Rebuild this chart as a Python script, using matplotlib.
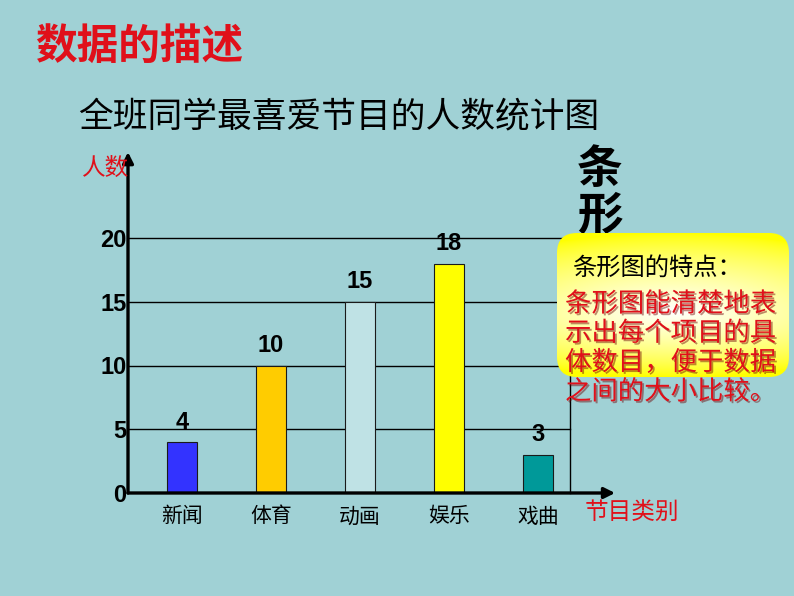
import matplotlib
matplotlib.use('Agg')
import matplotlib.pyplot as plt
import numpy as np
from matplotlib.patches import FancyBboxPatch
import matplotlib.patheffects as pe

plt.rcParams['font.family'] = ['Noto Sans CJK SC', 'DejaVu Sans']

# ---- data ----
categories = ['新闻', '体育', '动画', '娱乐', '戏曲']
counts = [4, 10, 15, 18, 3]
bar_colors = ['#3333FF', '#FFCC00', '#BFE2E5', '#FFFF00', '#009999']
y_ticks = [0, 5, 10, 15, 20]
title = '数据的描述'
subtitle = '全班同学最喜爱节目的人数统计图'
y_label = '人数'
x_label = '节目类别'
side_title = ['条', '形']
note_head = '条形图的特点：'
note_lines = ['条形图能清楚地表', '示出每个项目的具', '体数目，便于数据', '之间的大小比较。']

BG = '#A0D1D5'
RED = '#E0101A'
W, H = 794, 596
fig = plt.figure(figsize=(W / 100, H / 100), dpi=100, facecolor=BG)


def px(x0, y0, x1, y1):
    return [x0 / W, 1 - y1 / H, (x1 - x0) / W, (y1 - y0) / H]


# ---- chart ----
ax = fig.add_axes(px(128, 238, 570, 493))
ax.set_facecolor('none')
x = np.arange(len(categories))
ax.bar(x, counts, width=0.33, color=bar_colors, edgecolor='#1a1a1a',
       linewidth=0.8, zorder=3)
ax.set_xlim(-0.607, 4.36)
ax.set_ylim(0, 20)
for v in y_ticks[1:]:
    ax.axhline(v, color='black', lw=1.0, zorder=1, clip_on=False)
for s in ['top', 'left', 'bottom']:
    ax.spines[s].set_visible(False)
ax.spines['right'].set_linewidth(1.0)
ax.set_yticks(y_ticks)
ax.set_yticklabels([str(v) for v in y_ticks], fontfamily='Liberation Sans',
                   fontweight='bold', fontsize=17)
ax.tick_params(axis='y', length=0, pad=1)
ax.set_xticks(x)
ax.set_xticklabels(categories, fontsize=15)
ax.tick_params(axis='x', length=0, pad=9)
for xi, v in zip(x, counts):
    ax.annotate(str(v), (xi, v), xytext=(0, 6), textcoords='offset points',
                ha='center', va='bottom', fontfamily='Liberation Sans',
                fontweight='bold', fontsize=17)
# axis arrows
ax.annotate('', xy=(0, 1.337), xytext=(0, 0), xycoords='axes fraction',
            textcoords='axes fraction', annotation_clip=False,
            arrowprops=dict(arrowstyle='-|>', lw=2.4, color='black',
                            mutation_scale=16, shrinkA=0, shrinkB=0))
ax.annotate('', xy=(1.102, 0), xytext=(0, 0), xycoords='axes fraction',
            textcoords='axes fraction', annotation_clip=False,
            arrowprops=dict(arrowstyle='-|>', lw=2.4, color='black',
                            mutation_scale=16, shrinkA=0, shrinkB=0))

# ---- overlay (pixel coordinates, y down) ----
ov = fig.add_axes([0, 0, 1, 1], zorder=5)
ov.set_xlim(0, W)
ov.set_ylim(H, 0)
ov.axis('off')
ov.patch.set_alpha(0)

ov.text(35, 47, title, color=RED, fontsize=30, fontweight='bold',
        ha='left', va='center')
ov.text(78, 118, subtitle, color='black', fontsize=25, ha='left', va='center')
ov.text(82, 168, y_label, color=RED, fontsize=17, ha='left', va='center')
ov.text(585, 512, x_label, color=RED, fontsize=17, ha='left', va='center')
ov.text(600, 170, side_title[0], color='black', fontsize=33, fontweight='bold',
        ha='center', va='center')
ov.text(600, 217, side_title[1], color='black', fontsize=33, fontweight='bold',
        ha='center', va='center')

# gradient rounded box
bx0, by0, bx1, by1 = 557, 233, 789, 377
box = FancyBboxPatch((bx0, by0), bx1 - bx0, by1 - by0,
                     boxstyle='round,pad=0,rounding_size=20',
                     facecolor='none', edgecolor='none', zorder=6)
ov.add_patch(box)
gxs = np.linspace(bx0, bx1, 240)
gys = np.linspace(by0, by1, 150)
GX, GY = np.meshgrid(gxs, gys)
cy = 312
vy = np.where(GY < cy, (cy - GY) / (cy - by0), (GY - cy) / (by1 - cy))
vx = (GX - (bx0 + bx1) / 2) / ((bx1 - bx0) / 2)
t = np.sqrt(vy ** 2 + 0.2 * vx ** 2)
blue = np.clip(1 - t, 0, 1) ** 0.75
img = np.dstack([np.ones_like(blue), np.ones_like(blue), blue])
im = ov.imshow(img, extent=(bx0, bx1, by1, by0), origin='upper',
               interpolation='bilinear', zorder=6, aspect='auto')
im.set_clip_path(box)
ov.set_xlim(0, W)
ov.set_ylim(H, 0)

ov.text(572, 268, note_head, color='black', fontsize=17.5, ha='left',
        va='center', zorder=7)
shadow = [pe.SimplePatchShadow(offset=(1.3, -1.3), shadow_rgbFace='#6a0000',
                               alpha=0.45), pe.Normal()]
for i, line in enumerate(note_lines):
    ov.text(565, 304 + i * 29.3, line, color=RED, fontsize=19, ha='left',
            va='center', zorder=7, path_effects=shadow)

fig.savefig('out.png', dpi=100, facecolor=BG)
